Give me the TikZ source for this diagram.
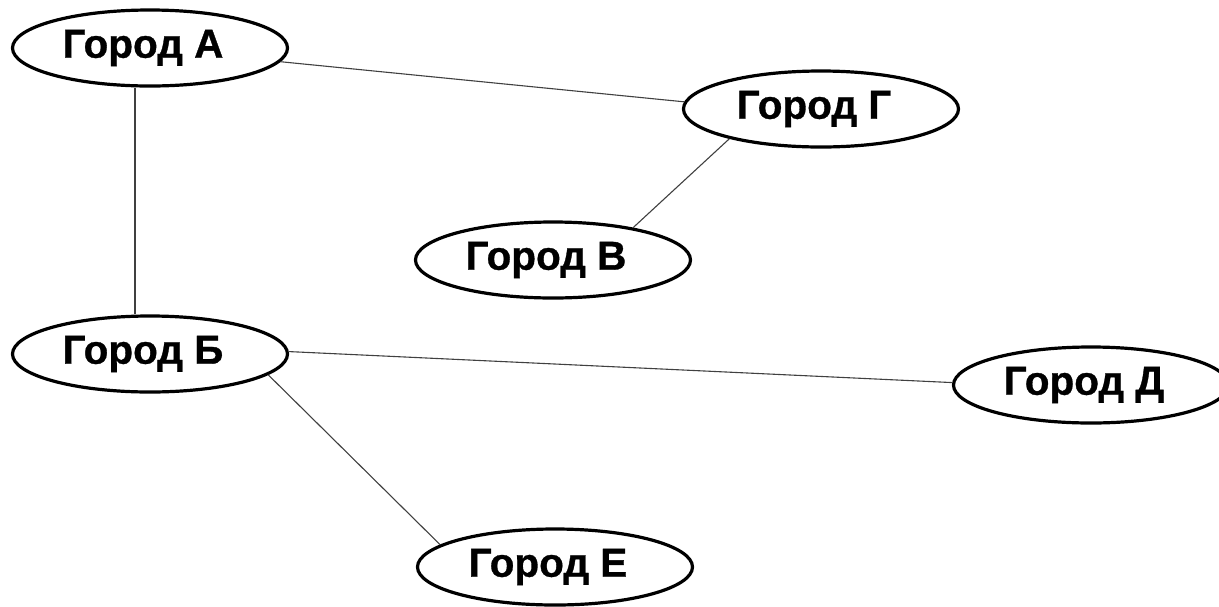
\documentclass[tikz,border=0pt]{standalone}
\usepackage{fontspec}
\setmainfont{Liberation Sans}
\newfontfamily\cityfont{Liberation Sans Bold}[FakeBold=0.8]
\usetikzlibrary{shapes.geometric}
\begin{document}
\begin{tikzpicture}[x=1pt,y=-1pt,
  city/.style={ellipse,draw=black,line width=3.2pt,fill=white,minimum width=275pt,minimum height=76pt,inner sep=0pt,
    font=\cityfont\fontsize{40.5}{44}\selectfont,execute at begin node={\hspace*{-14pt}}},
  link/.style={draw=black!75,line width=1.1pt}]
\useasboundingbox[fill=white] (0,0) rectangle (1219,606);
\node[city] (A) at (150,48) {Город А};
\node[city] (G) at (821,109) {Город Г};
\node[city] (V) at (553,260) {Город В};
\node[city] (B) at (150,354) {Город Б};
\node[city] (D) at (1091,385) {Город Д};
\node[city] (E) at (555,567) {Город Е};
\draw[link] (A.-6) -- (G.177.5);
\draw[link] (G.198.3) -- (V.22);
\draw[link] ([xshift=-15pt]A.south) -- ([xshift=-15pt]B.north);
\draw[link] (B.1) -- (D.179);
\draw[link] (B.-10.8) -- (E.169);
\end{tikzpicture}
\end{document}
